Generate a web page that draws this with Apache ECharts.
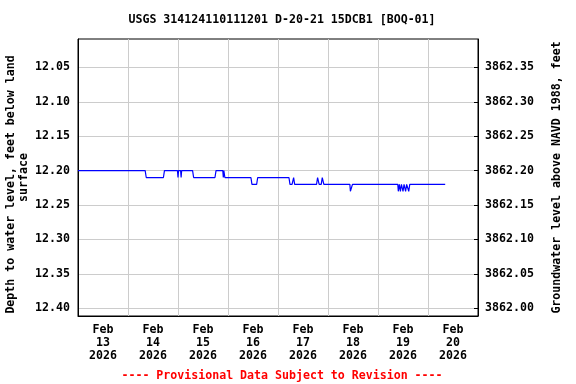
<!DOCTYPE html>
<html>
<head>
<meta charset="utf-8">
<script src="https://cdn.jsdelivr.net/npm/echarts@6/dist/echarts.min.js"></script>
<style>html,body{margin:0;padding:0;background:#fff}#c{width:576px;height:384px}</style>
</head>
<body>
<div id="c"></div>
<script>
var title = 'USGS 314124110111201 D-20-21 15DCB1 [BOQ-01]';
var footer = '---- Provisional Data Subject to Revision ----';
var leftName = 'Depth to water level, feet below land  \nsurface';
var rightName = 'Groundwater level above NAVD 1988, feet';

var times = [
  '2026-02-13 00:00','2026-02-14 08:15','2026-02-14 08:45','2026-02-14 17:00','2026-02-14 17:30',
  '2026-02-14 23:45','2026-02-15 00:00','2026-02-15 00:15','2026-02-15 01:15','2026-02-15 01:30','2026-02-15 01:45',
  '2026-02-15 07:00','2026-02-15 07:30','2026-02-15 17:45','2026-02-15 18:15',
  '2026-02-15 21:30','2026-02-15 21:45','2026-02-15 22:00','2026-02-15 22:30',
  '2026-02-16 11:00','2026-02-16 11:30','2026-02-16 13:45','2026-02-16 14:15',
  '2026-02-17 05:15','2026-02-17 05:45','2026-02-17 06:45','2026-02-17 07:30','2026-02-17 08:00',
  '2026-02-17 18:30','2026-02-17 19:00','2026-02-17 19:45','2026-02-17 20:45','2026-02-17 21:15','2026-02-17 22:00',
  '2026-02-18 10:30','2026-02-18 10:45','2026-02-18 11:30','2026-02-18 11:45',
  '2026-02-19 09:30','2026-02-19 09:45','2026-02-19 10:15','2026-02-19 10:45','2026-02-19 11:15',
  '2026-02-19 12:00','2026-02-19 12:30','2026-02-19 13:15','2026-02-19 13:45','2026-02-19 14:45','2026-02-19 15:15',
  '2026-02-20 08:15'
];
var depths = [
  12.20,12.20,12.21,12.21,12.20,
  12.20,12.21,12.20,12.20,12.21,12.20,
  12.20,12.21,12.21,12.20,
  12.20,12.21,12.20,12.21,
  12.21,12.22,12.22,12.21,
  12.21,12.22,12.22,12.21,12.22,
  12.22,12.21,12.22,12.22,12.21,12.22,
  12.22,12.23,12.23,12.22,
  12.22,12.23,12.22,12.23,12.22,
  12.23,12.22,12.23,12.22,12.23,12.22,
  12.22
];
var leftTicks = [12.05,12.10,12.15,12.20,12.25,12.30,12.35,12.40];
var rightTicks = [3862.00,3862.05,3862.10,3862.15,3862.20,3862.25,3862.30,3862.35];
var dayBounds = ['2026-02-13','2026-02-14','2026-02-15','2026-02-16','2026-02-17','2026-02-18','2026-02-19','2026-02-20','2026-02-21'];
var dayLabels = ['2026-02-13 12:00','2026-02-14 12:00','2026-02-15 12:00','2026-02-16 12:00','2026-02-17 12:00','2026-02-18 12:00','2026-02-19 12:00','2026-02-20 12:00'];

function ts(s){ var p = s.split(/[- :]/); return Date.UTC(+p[0], +p[1]-1, +p[2], +(p[3]||0), +(p[4]||0)); }
var T0 = ts(dayBounds[0]);
function hrs(s){ return (ts(s) - T0) / 3600000; }
var months = ['Jan','Feb','Mar','Apr','May','Jun','Jul','Aug','Sep','Oct','Nov','Dec'];
var FONT = 'DejaVu Sans Mono';
var FS = 11.6;

var chart = echarts.init(document.getElementById('c'), null, {renderer:'canvas'});
chart.setOption({
  animation: false,
  title: [
    {text: title, left: 277, top: 9, textAlign: 'center',
     textStyle: {fontFamily: FONT, fontWeight: 'bold', fontSize: FS, color: '#000'}},
    {text: footer, left: 277, top: 365, textAlign: 'center',
     textStyle: {fontFamily: FONT, fontWeight: 'bold', fontSize: FS, color: '#ff0000'}}
  ],
  grid: {left: 78, right: 98, top: 39, bottom: 68, show: true, borderColor: '#000', borderWidth: 1,
         containLabel: false, outerBoundsMode: 'none'},
  xAxis: {
    type: 'value',
    min: 0, max: hrs(dayBounds[dayBounds.length-1]),
    axisLine: {show: true, lineStyle: {color: '#000'}},
    axisTick: {show: false, customValues: dayBounds.map(hrs)},
    splitLine: {show: true, lineStyle: {color: '#cccccc', width: 1}},
    axisLabel: {
      customValues: dayLabels.map(hrs),
      margin: 7.5,
      fontFamily: FONT, fontWeight: 'bold', fontSize: FS, color: '#000', lineHeight: 13,
      formatter: function(v){ var d = new Date(T0 + v * 3600000); return months[d.getUTCMonth()] + '\n' + d.getUTCDate() + '\n' + d.getUTCFullYear(); }
    }
  },
  yAxis: [
    {
      type: 'value', inverse: true, min: 12.0087, max: 12.4112, position: 'left',
      name: leftName, nameLocation: 'middle', nameGap: 48, nameRotate: 90, nameMoveOverlap: false,
      nameTextStyle: {fontFamily: FONT, fontWeight: 'bold', fontSize: FS, color: '#000', lineHeight: 13, align: 'center'},
      axisLine: {show: true, lineStyle: {color: '#000'}},
      axisTick: {show: false, customValues: leftTicks},
      splitLine: {show: true, lineStyle: {color: '#cccccc', width: 1}},
      axisLabel: {customValues: leftTicks, margin: 8, fontFamily: FONT, fontWeight: 'bold', fontSize: FS, color: '#000',
        formatter: function(v){ return v.toFixed(2); }}
    },
    {
      type: 'value', min: 3861.9888, max: 3862.3913, position: 'right',
      name: rightName, nameLocation: 'middle', nameGap: 73, nameRotate: 90, nameMoveOverlap: false,
      nameTextStyle: {fontFamily: FONT, fontWeight: 'bold', fontSize: FS, color: '#000'},
      axisLine: {show: true, lineStyle: {color: '#000'}},
      axisTick: {show: true, inside: true, length: 4, customValues: rightTicks, lineStyle: {color: '#000'}},
      splitLine: {show: false},
      axisLabel: {customValues: rightTicks, margin: 7, fontFamily: FONT, fontWeight: 'bold', fontSize: FS, color: '#000',
        formatter: function(v){ return v.toFixed(2); }}
    }
  ],
  series: [{
    type: 'line', yAxisIndex: 0, showSymbol: false, symbol: 'none',
    lineStyle: {color: '#0000ff', width: 1.2}, itemStyle: {color: '#0000ff'},
    data: times.map(function(t, i){ return [hrs(t), depths[i]]; })
  }]
});
</script>
</body>
</html>
